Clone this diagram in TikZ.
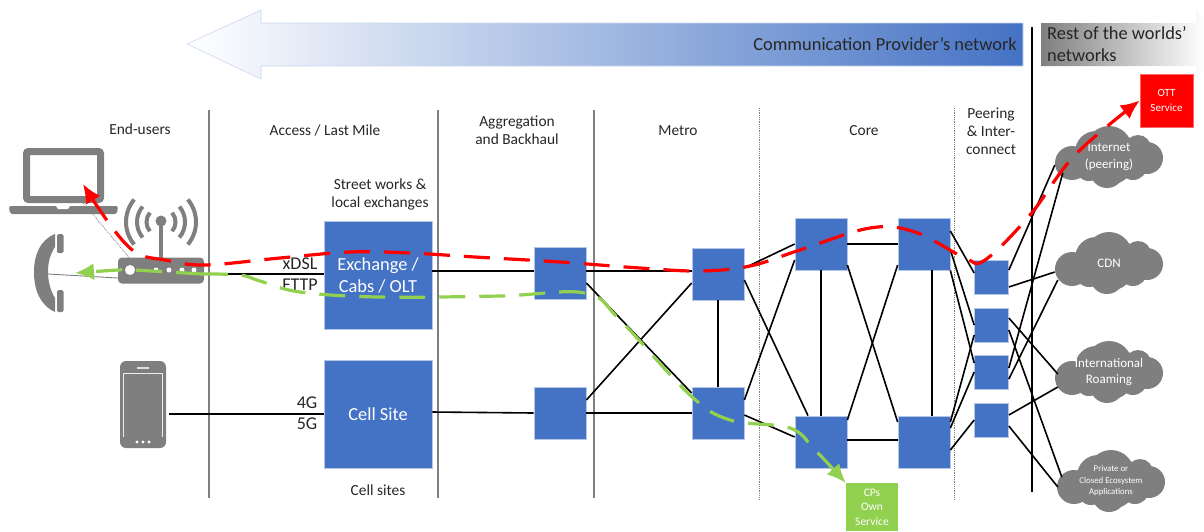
\documentclass[tikz,border=0pt]{standalone}
\usepackage{fontspec}
\setmainfont{Carlito}
\usetikzlibrary{arrows.meta}
\definecolor{hgrey}{RGB}{127,127,127}
\definecolor{hblue}{RGB}{68,114,196}
\definecolor{hline}{RGB}{180,199,231}
\definecolor{hgreen}{RGB}{146,208,80}
\definecolor{htext}{RGB}{38,38,38}
\tikzset{
  blk/.style={draw=hline,line width=0.7pt,fill=hblue,minimum size=#1,inner sep=0pt,text=white,align=center},
  lbl/.style={text=htext,align=center,inner sep=0pt,font=\fontsize{15.4}{18}\selectfont},
  wire/.style={line width=1.6pt,black},
  routeR/.style={red,line width=3.2pt,dash pattern=on 26pt off 14pt,{Latex[length=19pt,width=17pt]}-{Latex[length=19pt,width=17pt]}},
  routeG/.style={hgreen,line width=3.2pt,dash pattern=on 26pt off 14pt,-{Latex[length=19pt,width=17pt]}}
}
\newcommand{\sq}[3]{\node[blk=#3] (#1) at (#2) {};}
\newcommand{\ver}[2]{\coordinate (#1) at (#2);}
\newcommand{\cld}[5]{
  \begin{scope}[shift={(#2)}]
    \fill[hgrey] (-37,6) circle (17) (0,-8) circle (23) (29,-9) circle (13) (38,1) circle (16)
      (-2,14) circle (17) (-20,10) circle (14) (24,9) circle (14) (0,2) circle (26)
      (-22,2) circle (14) (16,0) circle (20) (-13,-5) circle (21);
  \end{scope}
  \node[text=white,align=center,inner sep=0pt,minimum width=108pt,minimum height=60pt,font=\fontsize{#4}{#5}\selectfont] (#1) at (#2) {#3};
}
\begin{document}
\begin{tikzpicture}[x=1pt,y=-1pt]
    \useasboundingbox (0,0) rectangle (1204,531);
    \shade[left color=white,right color=hblue,draw=hline!70,line width=0.6pt]
      (187,44) -- (261,10) -- (261,23) -- (1023,23) -- (1023,66) -- (261,66) -- (261,79) -- cycle;
    \shade[left color=hgrey,right color=white]
      (1041,23) -- (1196,23) -- (1196,10) -- (1204,18) -- (1204,70) -- (1196,79) -- (1196,66) -- (1041,66) -- cycle;
    \node[lbl,anchor=east,font=\fontsize{18.4}{22}\selectfont] (cpnet) at (1017,44) {Communication Provider’s network};
    \node[lbl,anchor=west,align=left,font=\fontsize{18.4}{22}\selectfont] (rest) at (1047,44) {Rest of the worlds’\\networks};

    \foreach \x in {209,438,594}
      \draw[hgrey,line width=1.2pt] (\x,110) -- (\x,498);
    \foreach \x in {759,954}
      \draw[hgrey,line width=0.8pt,densely dotted] (\x,108) -- (\x,500);
    \draw[black,line width=2pt] (1032,27) -- (1032,492);

    \node[lbl] (lusers) at (140,129) {End-users};
    \node[lbl] (laccess) at (325,130) {Access / Last Mile};
    \node[lbl] (lagg) at (517,130) {Aggregation\\and Backhaul};
    \node[lbl] (lmetro) at (678,131) {Metro};
    \node[lbl] (lcore) at (864,131) {Core};
    \node[lbl] (lpeer) at (991,131) {Peering\\\& Inter-\\connect};
    \node[lbl] (lstreet) at (380,194) {Street works \&\\local exchanges};
    \node[lbl] (lcells) at (378,490) {Cell sites};
    \node[lbl,font=\fontsize{18}{21}\selectfont] (lx) at (300,274.5) {xDSL\\FTTP};
    \node[lbl,font=\fontsize{18}{21}\selectfont] (lg) at (307,413.5) {4G\\5G};

    \sq{ex}{378,275}{108pt};
    \sq{cell}{378,414}{108pt};
    \sq{a1}{560,273}{52pt};
    \sq{a2}{560,413}{52pt};
    \sq{m1}{718,274}{52pt};
    \sq{m2}{718,413}{52pt};
    \sq{c1}{821,244}{52pt};
    \sq{c2}{924,244}{52pt};
    \sq{c3}{821,442}{52pt};
    \sq{c4}{924,442}{52pt};
    \sq{p1}{991.5,277}{34pt};
    \sq{p2}{991.5,325}{34pt};
    \sq{p3}{991.5,372}{34pt};
    \sq{p4}{991.5,420}{34pt};
    \node[text=white,align=center,font=\fontsize{18.4}{22}\selectfont] (extxt) at (ex) {Exchange /\\Cabs / OLT};
    \node[text=white,font=\fontsize{18.4}{22}\selectfont] (celltxt) at (cell) {Cell Site};

    \cld{inet}{1109,157}{Internet\\(peering)}{13}{16.5};
    \cld{cdn}{1109,263}{CDN}{13}{16.5};
    \cld{intl}{1109,372}{International\\Roaming}{13}{15.5};
    \cld{prv}{1111,481}{Private or\\Closed Ecosystem\\Applications}{8.8}{11.5};

    \node[fill=red,draw=red!60,line width=0.5pt,minimum size=53pt,inner sep=0pt,text=white,align=center,font=\fontsize{11}{15}\selectfont] (ott) at (1166.5,100.5) {OTT\\Service};
    \node[fill=hgreen,minimum width=52pt,minimum height=48pt,inner sep=0pt,anchor=north,text=white,align=center,font=\fontsize{11.5}{14.5}\selectfont] (cps) at (872,483) {CPs\\Own\\Service};

    \foreach \r in {14.5,24,35} {
      \draw[hgrey,line width=4pt] (161,222) ++(140:\r) arc (140:220:\r);
      \draw[hgrey,line width=4pt] (161,222) ++(-40:\r) arc (-40:40:\r);
    }
    \draw[hgrey,line width=3.5pt] (161,222) -- (161,260);
    \fill[hgrey] (161,221) circle (5.5);
    \node[fill=hgrey,rounded corners=4pt,minimum width=86pt,minimum height=26pt,inner sep=0pt] (rtr) at (161,270.5) {};
    \fill[white] (130,270) circle (5) (156,270) circle (2.5) (169,270) circle (2.5) (182,270) circle (2.5) (194,270) circle (2.5);

    \node[draw=hgrey,line width=7pt,rounded corners=2pt,minimum width=74pt,minimum height=48pt,inner sep=0pt] (laptop) at (63.5,175.5) {};
    \fill[hgrey,rounded corners=2pt] (9,206) -- (118,206) -- (117,214) -- (10,214) -- cycle;
    \fill[white] (56,206) -- (70,206) -- (68,209) -- (58,209) -- cycle;

    \node[inner sep=0pt,minimum width=29pt,minimum height=78pt] (hset) at (48.5,273) {};
    \fill[hgrey] (55,234) .. controls (40,240) and (34,255) .. (34,272) .. controls (34,290) and (40,305) .. (55,312)
      -- (55,298) .. controls (50,290) and (48,280) .. (48,272) .. controls (48,262) and (50,255) .. (55,247) -- cycle;
    \fill[hgrey,rounded corners=1.5pt] (57,234) rectangle (63.5,253) (57,290) rectangle (63.5,312);

    \node[fill=hgrey,rounded corners=6pt,minimum width=46pt,minimum height=87pt,inner sep=0pt] (mob) at (143,404.5) {};
    \draw[white!85!hgrey,line width=0.9pt] (123.5,437) -- (123.5,373) -- (162.5,373) -- (162.5,437);
    \draw[white!75!hgrey,line width=1.2pt] (137,368) -- (149,368);
    \fill[white] (137,442) circle (1.6) (143,442) circle (1.6) (149,442) circle (1.6);

    \draw[hgrey,line width=0.8pt,densely dotted] ([xshift=20]laptop.south) -- ([xshift=-32,yshift=13]rtr.center);
    \draw[hgrey,line width=0.9pt] ([xshift=-0.5,yshift=-1]hset.center) -- ([yshift=-7.5]rtr.west);

    \draw[wire] ([yshift=-3.5]rtr.east) -- ([yshift=1]ex.west);
    \draw[wire] ([yshift=4]ex.east) -- ([yshift=2]a1.west);
    \draw[wire] ([yshift=2]a1.east) -- ([yshift=3]m1.west);
    \draw[wire] ([xshift=3,yshift=-9.5]mob.east) -- (cell.west);
    \draw[wire] ([yshift=2]cell.east) -- (a2.west);
    \draw[wire] (a2.east) -- (m2.west);
    \draw[wire] ([yshift=-10]a1.east) -- ([yshift=20]m2.west);
    \draw[wire] ([yshift=13]a2.east) -- ([yshift=-9]m1.west);
    \draw[wire] (m1.south) -- (m2.north);
    \draw[wire] ([yshift=6]m1.east) -- (c1.west);
    \draw[wire] ([yshift=-6]m1.east) -- ([xshift=-13]c3.north);
    \draw[wire] ([yshift=13]m2.east) -- ([yshift=-16]c1.west);
    \draw[wire] ([yshift=-2]m2.east) -- ([yshift=5]c3.west);
    \draw[wire] (c1.east) -- (c2.west);
    \draw[wire] ([yshift=2]c3.east) -- ([yshift=2]c4.west);
    \draw[wire] (c1.south) -- (c3.north);
    \draw[wire] ([xshift=8]c2.south) -- ([xshift=8]c4.north);
    \draw[wire] ([yshift=-21]c1.east) -- ([yshift=20]c4.west);
    \draw[wire] ([yshift=22]c3.east) -- ([yshift=-21]c2.west);
    \draw[wire] ([yshift=13]c2.east) -- ([yshift=4]p1.west);
    \draw[wire] ([yshift=-6]c2.east) -- (p2.west);
    \draw[wire] (c2.south east) -- ([yshift=9]p3.west);
    \draw[wire] ([yshift=20]c4.east) -- ([yshift=-10]p2.west);
    \draw[wire] ([yshift=14]c4.east) -- (p3.west);
    \draw[wire] ([yshift=-8]c4.east) -- (p4.west);
    \draw[wire] ([yshift=7]p1.east) -- ([yshift=-8]inet.west);
    \draw[wire] ([yshift=-10]p1.east) -- ([yshift=-9]cdn.west);
    \draw[wire] ([yshift=4]p3.east) -- ([xshift=8,yshift=-16]inet.west);
    \draw[wire] ([yshift=-7]p3.east) -- ([xshift=3,yshift=-17]cdn.west);
    \draw[wire] ([yshift=7]p2.east) -- ([xshift=3,yshift=-2]intl.west);
    \draw[wire] ([yshift=-5]p2.east) -- ([xshift=5,yshift=4]prv.west);
    \draw[wire] ([yshift=5]p4.east) -- ([xshift=3,yshift=-15]intl.west);
    \draw[wire] ([yshift=-6]p4.east) -- ([xshift=1,yshift=-6]prv.west);

    \ver{lapin}{83,184};
    \draw[routeR] plot[smooth,tension=0.6] coordinates {(lapin) (108,222) (135,252) (165,260) (205,265) (280,258) (350,252) (410,253) (475,257) (560,262) (640,268) (700,271) (750,266) (800,250) (870,228) (915,232) (965,258) (985,260) (1030,215) (1075,155) (ott.west)};
    \ver{hsetin}{75,273};
    \draw[routeG] plot[smooth,tension=0.6] coordinates {(202,274) (133,270) (118,270) (hsetin)};
    \draw[routeG] plot[smooth,tension=0.6] coordinates {(202,274) (240,275) (260,281) (300,292) (378,297) (500,296) (585,293) (620,320) (690,395) (730,420) (790,428) (815,450) (cps.north west)};
\end{tikzpicture}
\end{document}
